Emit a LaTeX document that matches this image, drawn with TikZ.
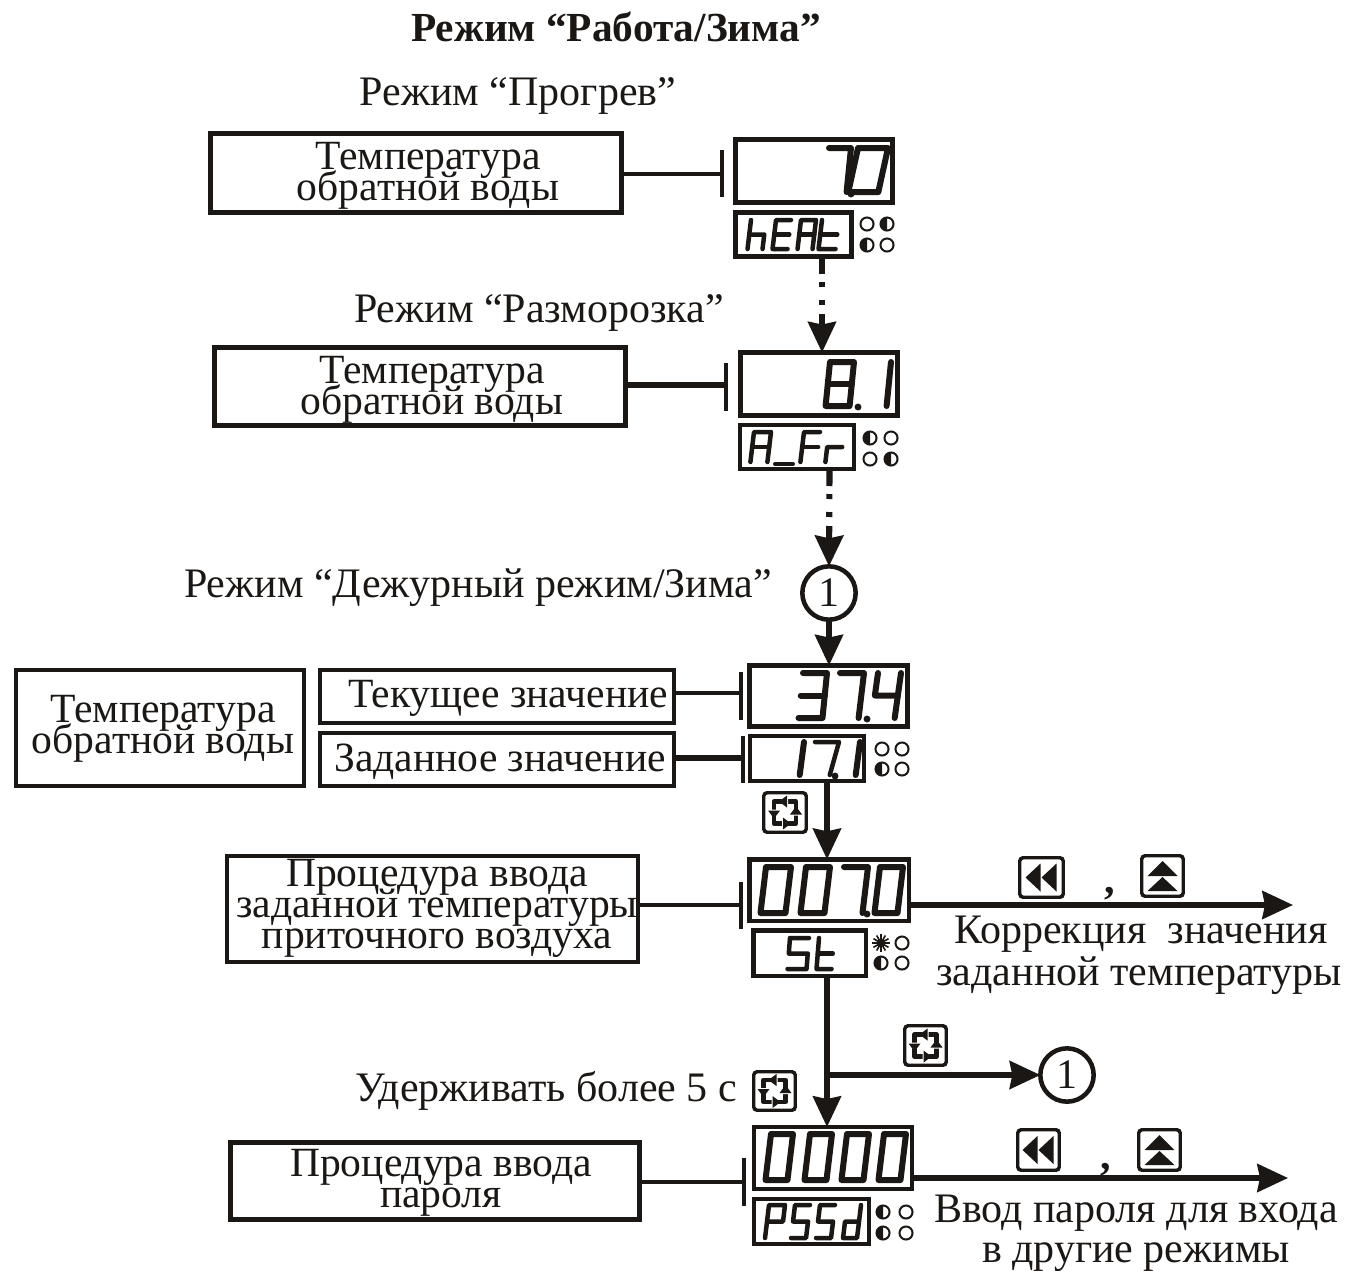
\documentclass[tikz,border=0pt]{standalone}
\usepackage{fontspec}
\setmainfont{Liberation Serif}
\usetikzlibrary{arrows.meta,calc}
\definecolor{ink}{HTML}{1A1714}
% framed box: name,x1,y1,x2,y2,line width
\newcommand\rbx[6]{\node[draw=ink,line width=#6*.75pt,rectangle,inner sep=0pt,outer sep=0pt,
  minimum width=(#4-#2-#6)*.75pt,minimum height=(#5-#3-#6)*.75pt]
  (#1) at ({(#2+#4)/2},{(#3+#5)/2}) {};}
\newcommand\lblfont{\fontsize{31.2}{23.25}\selectfont\lineskiplimit=-60pt\relax}
\newcommand\bigfont{\fontsize{31.5}{33}\selectfont}
% seven-segment glyph: x,y(top-left),w,h,slant,lw,glyph
\newcommand\sg[7]{\begin{scope}[shift={(#1,#2)},xslant=#5,xscale=#3,yscale=#4,line width=#6*.75pt,draw=ink,line cap=round,line join=round]\csname ch#7\endcsname\end{scope}}
\def\chO{\draw (0,0)--(1,0)--(1,1)--(0,1)--cycle;}
\def\chI{\draw (1,0)--(1,1);}
\def\chTh{\draw (0,0)--(1,0)--(1,1)--(0,1);\draw (0,.5)--(1,.5);}
\def\chFo{\draw (0,0)--(0,.5)--(1,.5);\draw (1,0)--(1,1);}
\def\chS{\draw (1,0)--(0,0)--(0,.5)--(1,.5)--(1,1)--(0,1);}
\def\chSe{\draw (0,0)--(1,0)--(1,1);}
\def\chEi{\draw (0,0)--(1,0)--(1,1)--(0,1)--cycle;\draw (0,.5)--(1,.5);}
\def\chA{\draw (0,1)--(0,0)--(1,0)--(1,1);\draw (0,.5)--(1,.5);}
\def\chE{\draw (1,0)--(0,0)--(0,1)--(1,1);\draw (0,.5)--(1,.5);}
\def\chF{\draw (1,0)--(0,0)--(0,1);\draw (0,.5)--(1,.5);}
\def\chh{\draw (0,0)--(0,1);\draw (0,.5)--(1,.5)--(1,1);}
\def\cht{\draw (0,0)--(0,1)--(1,1);\draw (0,.5)--(1,.5);}
\def\chr{\draw (0,1)--(0,.5)--(1,.5);}
\def\chd{\draw (1,0)--(1,1)--(0,1)--(0,.5)--(1,.5);}
\def\chP{\draw (0,1)--(0,0)--(1,0)--(1,.5)--(0,.5);}
\def\chU{\draw (0,1)--(1,1);}
\newcommand\dotp[2]{\fill[ink] (#1,#2) circle (2.6pt);}
% LEDs
\newcommand\ledo[2]{\draw[ink,line width=1.5pt] (#1,#2) circle (4.9pt);}
\newcommand\ledh[2]{\draw[ink,line width=1.5pt] (#1,#2) circle (4.9pt);\fill[ink] (#1,#2) ++(0,-4.9pt) arc (-90:-270:4.9pt)--cycle;}
\newcommand\leds[2]{\foreach \a in {0,30,...,150}{\draw[ink,line width=1.2pt] (#1,#2) ++(\a:6.5pt) -- ++(\a+180:13pt);}\fill[ink] (#1,#2) circle (3.2pt);}
% icon buttons
\newcommand\btn[5]{\node[draw=ink,line width=2.6pt,rectangle,rounded corners=2.5pt,inner sep=0pt,outer sep=0pt,
  minimum width=(#4-#2-3.5)*.75pt,minimum height=(#5-#3-3.5)*.75pt] (#1) at ({(#2+#4)/2},{(#3+#5)/2}) {};}
\newcommand\icrep[1]{\begin{scope}[shift={(#1)}]
  \draw[ink,line width=3.2pt,line join=round] (-11,-11) rectangle (11,11);
  \fill[white] (-3,-15) rectangle (3,-7) (-3,7) rectangle (3,15) (-15,-3) rectangle (-7,3) (7,-3) rectangle (15,3);
  \fill[ink] (-6,-11)--(2,-17)--(2,-5)--cycle (6,11)--(-2,5)--(-2,17)--cycle (-11,6)--(-17,-2)--(-5,-2)--cycle (11,-6)--(5,2)--(17,2)--cycle;
\end{scope}}
\newcommand\icleft[1]{\begin{scope}[shift={(#1)}]
  \fill[ink] (-16,0)--(-1,-14)--(-1,14)--cycle (0,0)--(15,-14)--(15,14)--cycle;\end{scope}}
\newcommand\icup[1]{\begin{scope}[shift={(#1)}]
  \fill[ink] (0,-15)--(-15,0)--(15,0)--cycle (0,1)--(-15,15)--(15,15)--cycle;\end{scope}}
\tikzset{
  conn/.style={draw=ink,line width=3pt},
  thk/.style={draw=ink,line width=3.9pt},
  bar/.style={draw=ink,line width=3.6pt},
  arr/.style={draw=ink,line width=3.9pt,-{Stealth[length=23pt,width=21pt,inset=2pt]}},
  dashdot/.style={dash pattern=on 12.75pt off 6pt on 3.75pt off 9.75pt on 3.75pt off 6.75pt on 200pt},
  txt/.style={inner sep=0pt,outer sep=0pt,font=\bigfont,text=ink,anchor=base},
  lbl/.style={inner sep=0pt,outer sep=0pt,font=\lblfont,text=ink,align=center,anchor=center},
  circ/.style={circle,draw=ink,line width=3.4pt,minimum size=40pt,inner sep=0pt,outer sep=0pt,font=\bigfont,text=ink},
}
\begin{document}
\begin{tikzpicture}[x=.75pt,y=-.75pt]
\path[fill=white,use as bounding box] (0,0) rectangle (1347,1271);
\node[txt,font=\bfseries\fontsize{31}{33}\selectfont] (title) at (616,41) {Режим “Работа/Зима”};
\node[txt] (t1) at (518,105) {Режим “Прогрев”};
\node[txt] (t2) at (539,322) {Режим “Разморозка”};
\node[txt] (t3) at (478,597) {Режим “Дежурный режим/Зима”};
\node[txt] (t4) at (546,1101) {Удерживать более 5 с};
\node[txt] (t5) at (1141,943) {Коррекция\ \ значения};
\node[txt] (t6) at (1139,985) {заданной температуры};
\node[txt] (t7) at (1136,1222) {Ввод пароля для входа};
\node[txt] (t8) at (1136,1262) {в другие режимы};
\node[txt,font=\bfseries\bigfont] (c1) at (1110,893) {,};
\node[txt,font=\bfseries\bigfont] (c2) at (1106,1169) {,};

% row 1
\rbx{l1}{208}{131}{624}{215}{5}
\node[lbl] (l1t) at (428,175.5) {Температура\\обратной воды};
\rbx{d1}{733}{137}{895}{205}{5}
\rbx{s1}{733}{210}{854}{259}{5}
\coordinate (tee1) at (722,174);
\draw[conn] (l1.east |- tee1) -- (tee1);
\draw[bar] (722,150) -- (722,197);
\sg{829}{148}{22}{44}{.1}{6}{Se}\sg{858}{148}{30}{44}{.22}{6}{O}\dotp{851}{194}
\sg{751}{220}{15}{29}{.12}{4.5}{h}\sg{776}{220}{15}{29}{.12}{4.5}{E}\sg{801}{220}{15}{29}{.12}{4.5}{A}\sg{822}{220}{17}{29}{.12}{4.5}{t}
\ledo{867}{224}\ledh{887}{224}\ledh{867}{245}\ledo{887}{245}
\coordinate (x1) at (822,300);
% row 2
\rbx{l2}{212}{345}{628}{428}{5}
\node[lbl] (l2t) at (432,389.5) {Температура\\обратной воды};
\rbx{d2}{738}{350}{900}{418}{5}
\rbx{s2}{738}{423}{856}{471}{4}
\draw[arr,dashdot] (s1.south -| x1) -- (d2.north -| x1);
\coordinate (tee2) at (726,385);
\draw[thk] (l2.east |- tee2) -- (tee2);
\draw[bar] (726,363) -- (726,411);
\sg{830}{362}{24}{44}{.1}{6}{Ei}\dotp{858}{407}\sg{890}{362}{1}{44}{.1}{6}{I}
\sg{754}{432}{17}{30}{.12}{4.5}{A}\sg{775}{463}{18}{1}{0}{4}{U}\sg{804}{432}{16}{30}{.12}{4.5}{F}\sg{829}{432}{15}{30}{.12}{4.5}{r}
\ledh{870}{438}\ledo{891}{438}\ledo{870}{459}\ledh{891}{459}
\node[circ] (n1) at (829,593) {1};
\coordinate (x2) at (829.5,500);
\draw[arr,dashdot,line width=4.6pt] (s2.south -| x2) -- (n1.north);
% row 3
\rbx{l3}{14}{668}{306}{788}{4}
\node[lbl] (l3t) at (163,728.5) {Температура\\обратной воды};
\rbx{l3a}{318}{668}{676}{725}{4}
\node[lbl] (l3at) at (508,698.5) {Текущее значение};
\rbx{l3b}{318}{731}{676}{788}{4}
\node[lbl] (l3bt) at (500,761.5) {Заданное значение};
\rbx{d3}{747}{663}{910}{729}{5}
\rbx{s3}{748}{734}{866}{783}{4}
\coordinate (tee3a) at (741,693);\coordinate (tee3b) at (743,758);
\draw[conn] (l3a.east |- tee3a) -- (tee3a);
\draw[thk] (l3b.east |- tee3b) -- (tee3b);
\draw[bar] (741,672) -- (741,720);
\draw[bar] (743,736) -- (743,783);
\draw[arr] (n1.south) -- (d3.north -| n1);
\sg{803}{673}{24}{45}{.1}{6}{Th}\sg{840}{673}{24}{45}{.12}{6}{Se}\dotp{867}{719}\sg{878}{673}{23}{45}{.14}{6}{Fo}
\sg{803}{742}{1}{33}{.13}{6}{I}\sg{815}{742}{24}{33}{.28}{4.5}{Se}\dotp{835}{776}\sg{859}{742}{1}{33}{.13}{6}{I}
\ledo{882}{749}\ledo{902}{749}\ledh{882}{769}\ledo{902}{769}
\btn{b1}{762}{791}{808}{834}\icrep{b1}
\coordinate (x3) at (827,800);
% row 4
\rbx{l4}{225}{854}{640}{964}{4}
\node[lbl] (l4t) at (437,908.5) {Процедура ввода\\заданной температуры\\приточного воздуха};
\rbx{d4}{747}{857}{911}{923}{4.5}
\rbx{s4}{751}{928}{868}{978}{4.5}
\draw[arr] (s3.south -| x3) -- (d4.north -| x3);
\coordinate (tee4) at (741,905);
\draw[conn] (l4.east |- tee4) -- (tee4);
\draw[bar] (741,882) -- (741,929);
\sg{766}{867}{25}{46}{.12}{6}{O}\sg{806}{867}{24}{46}{.12}{6}{O}\sg{844}{867}{24}{46}{.12}{6}{Se}\dotp{867}{914}\sg{880}{867}{23}{46}{.12}{6}{O}
\sg{790}{938}{19}{31}{.08}{4.5}{S}\sg{819}{938}{15}{31}{.08}{4.5}{t}
\leds{881}{943}\ledo{902}{943}\ledh{881}{963}\ledo{902}{963}
\coordinate (e4) at (1293,905);
\draw[arr] (d4.east |- e4) -- (e4);
\btn{b2}{1018}{856}{1065}{899}\icleft{b2}
\btn{b3}{1140}{854}{1185}{898}\icup{b3}
% row 5
\rbx{l5}{228}{1140}{642}{1222}{5}
\node[lbl] (l5t) at (441,1182.5) {Процедура ввода\\пароля};
\rbx{d5}{752}{1125}{914}{1191}{4}
\rbx{s5}{752}{1197}{871}{1246}{4}
\coordinate (x5) at (827,1075);
\draw[arr] (s4.south -| x5) -- (d5.north -| x5);
\node[circ] (n2) at (1067,1075) {1};
\draw[arr] (x5) -- (n2.west);
\btn{b4}{903}{1024}{948}{1067}\icrep{b4}
\btn{b5}{752}{1070}{797}{1112}\icrep{b5}
\coordinate (tee5) at (744,1182);
\draw[conn] (l5.east |- tee5) -- (tee5);
\draw[bar] (744,1158) -- (744,1206);
\sg{771}{1134}{22}{46}{.12}{6}{O}\sg{810}{1134}{22}{46}{.12}{6}{O}\sg{847}{1134}{22}{46}{.12}{6}{O}\sg{884}{1134}{22}{46}{.12}{6}{O}
\sg{769}{1205}{16}{33}{.12}{4.5}{P}\sg{795}{1205}{15}{33}{.12}{4.5}{S}\sg{820}{1205}{15}{33}{.12}{4.5}{S}\sg{847}{1205}{14}{33}{.12}{4.5}{d}
\ledh{883}{1212}\ledo{906}{1212}\ledh{883}{1233}\ledo{906}{1233}
\coordinate (e5) at (1288,1178);
\draw[arr] (d5.east |- e5) -- (e5);
\btn{b6}{1016}{1128}{1061}{1172}\icleft{b6}
\btn{b7}{1137}{1128}{1182}{1172}\icup{b7}
\end{tikzpicture}
\end{document}
